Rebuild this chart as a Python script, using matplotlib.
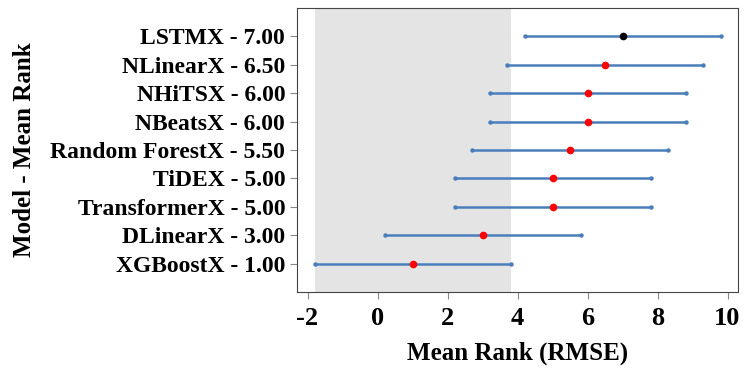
import matplotlib
matplotlib.use("Agg")
import matplotlib.pyplot as plt
import numpy as np

models = ["LSTMX", "NLinearX", "NHiTSX", "NBeatsX", "Random ForestX",
          "TiDEX", "TransformerX", "DLinearX", "XGBoostX"]
mean_ranks = [7.00, 6.50, 6.00, 6.00, 5.50, 5.00, 5.00, 3.00, 1.00]
half_width = 2.8
xticks = [-2, 0, 2, 4, 6, 8, 10]

plt.rcParams['font.family'] = ['Liberation Serif', 'DejaVu Serif']
plt.rcParams['font.weight'] = 'bold'

fig = plt.figure(figsize=(7.48, 3.74), dpi=100)
ax = fig.add_axes([297/748, 1-292/374, (738-297)/748, (292-8)/374])

n = len(models)
ypos = np.arange(n)[::-1]
best = min(mean_ranks)
ax.axvspan(best - half_width, best + half_width, color='#e4e4e4', zorder=0, lw=0)

for y, r in zip(ypos, mean_ranks):
    ax.plot([r - half_width, r + half_width], [y, y], color='#4a7ebb', lw=1.8,
            marker='o', markersize=2.2, zorder=2)
worst = max(mean_ranks)
for y, r in zip(ypos, mean_ranks):
    ax.plot([r], [y], 'o', color='black' if r == worst else 'red', markersize=4.5, zorder=3)

ax.set_yticks(ypos)
ax.set_yticklabels([f"{m} - {r:.2f}" for m, r in zip(models, mean_ranks)], fontsize=17, fontweight='bold')
ax.set_xticks(xticks)
ax.set_xticklabels([str(t).replace('\u2212', '-') for t in xticks], fontsize=19, fontweight='bold')
ax.set_xlim(-2.3, 10.3)
ax.set_ylim(-1, n)
ax.set_xlabel("Mean Rank (RMSE)", fontsize=18, fontweight='bold', labelpad=8)
ax.set_ylabel("Model - Mean Rank", fontsize=18, fontweight='bold', labelpad=10)
for s in ax.spines.values():
    s.set_color('#444444')
ax.tick_params(axis='both', colors='#888888', labelcolor='black', length=5)
ax.tick_params(axis='x', pad=6)

fig.savefig("out.png", dpi=100)
